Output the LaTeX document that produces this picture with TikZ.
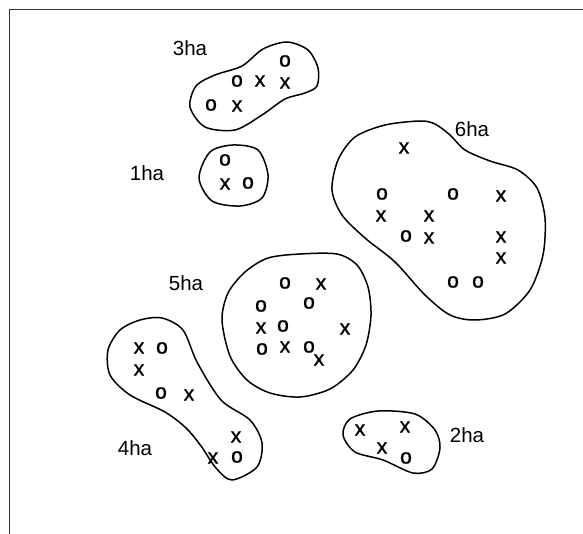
\documentclass[tikz,border=0pt]{standalone}
\usepackage{fontspec}
\setmainfont{Liberation Sans}
\newfontfamily\markfont[FakeBold=1.2]{Liberation Sans}
\usepackage{tikz}
\usetikzlibrary{positioning}
\tikzstyle{plot edge}=[line width=1.5pt,line join=round]
\tikzstyle{frame edge}=[line width=1.8pt,black!80]
\tikzstyle{tree mark}=[inner sep=0pt,font=\markfont\fontsize{21}{24}\selectfont]
\tikzstyle{plot label}=[inner sep=0pt,font=\fontsize{20.5}{24}\selectfont]
\newcommand{\treenode}[3]{
  \node [tree mark] (#1) at (#2) {#3}
}
\newcommand{\plotlabel}[3]{
  \node [plot label] (#1) at (#2) {#3}
}

\begin{document}
\begin{tikzpicture}[x=1pt,y=-1pt]
        \useasboundingbox (0,0) rectangle (583,534);
        \draw[frame edge] (9.5,534) -- (9.5,9.5) -- (583,9.5);

        % plot outlines
        \draw[plot edge] plot[smooth cycle] coordinates {(287,42) (308,50) (318,68) (317,86) (305,93) (285,99) (262,115) (235,130) (205,127) (190,107) (196,86) (215,75) (242,66) (263,49)};
        \draw[plot edge] plot[smooth cycle] coordinates {(233,145) (258,150) (268,175) (262,198) (240,206) (212,201) (199,178) (210,152)};
        \draw[plot edge] plot[smooth cycle] coordinates {(420,121) (385,125) (355,137) (338,160) (332,190) (342,215) (365,238) (395,262) (425,295) (450,315) (475,320) (505,314) (530,290) (543,255) (545,218) (537,188) (518,170) (490,161) (465,150) (450,135) (435,124)};
        \draw[plot edge] plot[smooth cycle] coordinates {(300,254) (337,254) (357,265) (368,287) (371,315) (366,345) (353,370) (330,389) (300,397) (270,393) (247,380) (230,356) (222,320) (228,293) (245,272) (268,258)};
        \draw[plot edge] plot[smooth cycle] coordinates {(162,318) (183,330) (197,362) (221,400) (250,420) (262,443) (257,467) (232,480) (216,468) (201,446) (186,428) (165,412) (130,395) (110,375) (108,350) (120,330) (140,320)};
        \draw[plot edge] plot[smooth cycle] coordinates {(350,419) (378,411) (415,414) (435,430) (440,448) (432,469) (413,473) (383,460) (355,452) (343,435)};

        \plotlabel{l3}{190,48}{3ha};
        \plotlabel{l1}{147,173}{1ha};
        \plotlabel{l6}{472,129}{6ha};
        \plotlabel{l5}{186,283}{5ha};
        \plotlabel{l4}{135,448}{4ha};
        \plotlabel{l2}{467,435}{2ha};

        % 3ha
        \treenode{a1}{285,61}{o};
        \treenode{a2}{237,81}{o};
        \treenode{a3}{260,81}{x};
        \treenode{a4}{285,83}{x};
        \treenode{a5}{211,105}{o};
        \treenode{a6}{237,106}{x};
        % 1ha
        \treenode{b1}{225,160}{o};
        \treenode{b2}{225,184}{x};
        \treenode{b3}{248,183}{o};
        % 6ha
        \treenode{f1}{404,148}{x};
        \treenode{f2}{382,194}{o};
        \treenode{f3}{453,194}{o};
        \treenode{f4}{501,196}{x};
        \treenode{f5}{381,216}{x};
        \treenode{f6}{429,216}{x};
        \treenode{f7}{406,236}{o};
        \treenode{f8}{429,238}{x};
        \treenode{f9}{501,237}{x};
        \treenode{f10}{501,258}{x};
        \treenode{f11}{453,282}{o};
        \treenode{f12}{478,282}{o};
        % 5ha
        \treenode{e1}{285,283}{o};
        \treenode{e2}{321,284}{x};
        \treenode{e3}{261,306}{o};
        \treenode{e4}{309,303}{o};
        \treenode{e5}{261,328}{x};
        \treenode{e6}{283,326}{o};
        \treenode{e7}{345,329}{x};
        \treenode{e8}{262,349}{o};
        \treenode{e9}{285,347}{x};
        \treenode{e10}{309,347}{o};
        \treenode{e11}{319,360}{x};
        % 4ha
        \treenode{d1}{139,348}{x};
        \treenode{d2}{162,348}{o};
        \treenode{d3}{139,370}{x};
        \treenode{d4}{161,393}{o};
        \treenode{d5}{189,395}{x};
        \treenode{d6}{236,437}{x};
        \treenode{d7}{213,458}{x};
        \treenode{d8}{237,457}{o};
        % 2ha
        \treenode{c1}{360,430}{x};
        \treenode{c2}{405,427}{x};
        \treenode{c3}{382,448}{x};
        \treenode{c4}{406,458}{o};
\end{tikzpicture}
\end{document}
